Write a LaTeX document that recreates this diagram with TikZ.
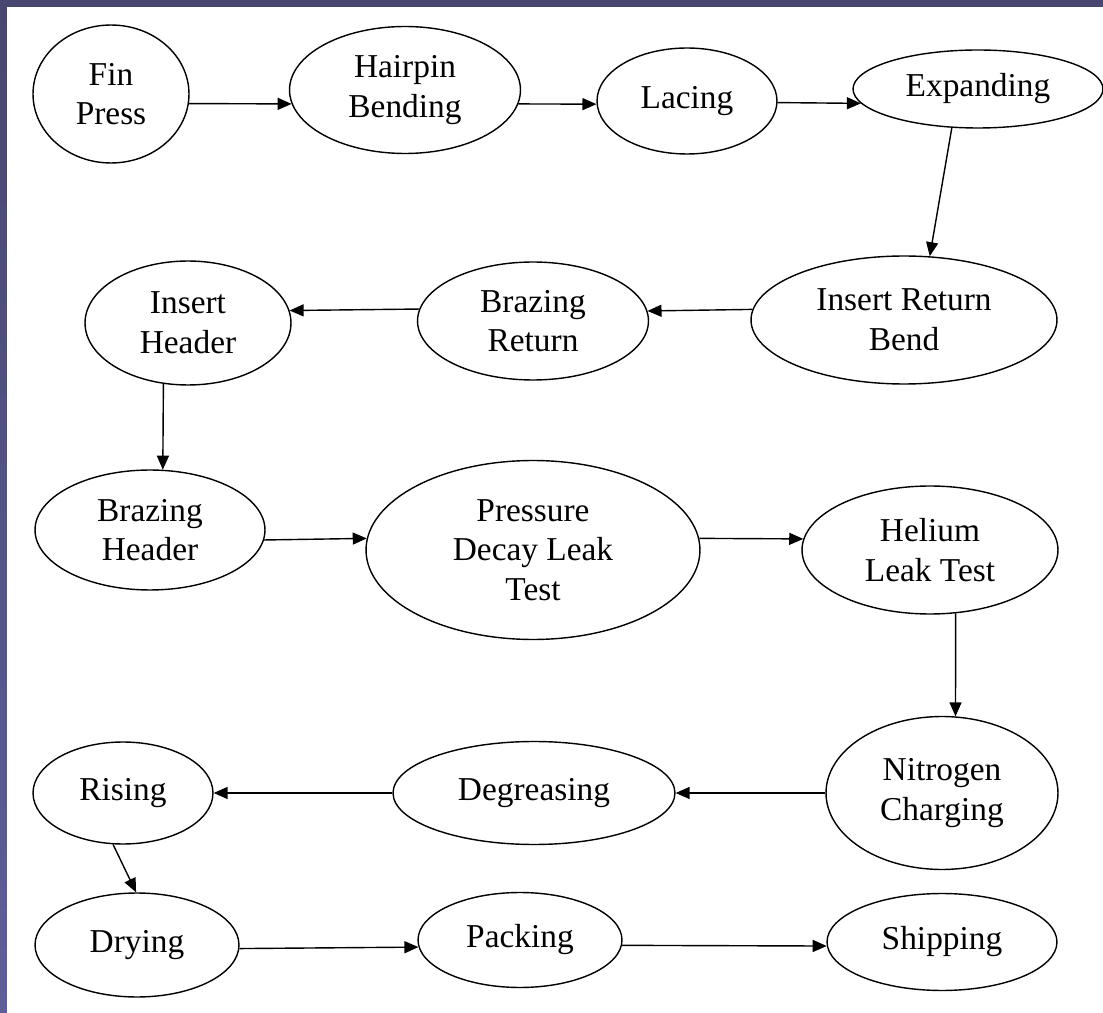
\documentclass[tikz,border=0pt]{standalone}
\usepackage{fontspec}
\setmainfont{Liberation Serif}
\usetikzlibrary{shapes.geometric,arrows.meta}
\definecolor{framedark}{HTML}{48476F}
\definecolor{framelight}{HTML}{5E5E9A}
\tikzset{
  stage/.style 2 args={ellipse, draw, line width=0.8pt, inner sep=0pt,
    minimum width=#1, minimum height=#2, align=center,
    font=\fontsize{19}{22.5}\selectfont},
  flow/.style={line width=0.8pt, -{Triangle[length=0.28cm,width=0.24cm]}}
}
\begin{document}
\begin{tikzpicture}[x=0.02cm,y=-0.02cm]
\useasboundingbox (0,0) rectangle (1103,1013);
\fill[framedark] (0,0) rectangle (1103,1013);
\shade[top color=framedark, bottom color=framelight] (0,7) rectangle (7,1013);
\fill[white] (7,7) rectangle (1103,1013);

\node[stage={3.12cm}{2.76cm}] (fin) at (111,94) {Fin\\Press};
\node[stage={4.62cm}{2.54cm}] (hair) at (405,90) {Hairpin\\Bending};
\node[stage={3.6cm}{2.12cm}] (lace) at (687,101) {Lacing};
\node[stage={5.0cm}{1.56cm}] (expand) at (978,89) {Expanding};
\node[stage={6.12cm}{2.56cm}] (irb) at (904,320) {Insert Return\\Bend};
\node[stage={4.62cm}{2.36cm}] (brazret) at (533,321) {Brazing\\Return};
\node[stage={4.12cm}{2.48cm}] (ih) at (188,323) {Insert\\Header};
\node[stage={4.6cm}{2.4cm}] (bh) at (150,530) {Brazing\\Header};
\node[stage={6.68cm}{3.58cm}] (pdlt) at (533,550) {Pressure\\Decay Leak\\Test};
\node[stage={5.12cm}{2.56cm}] (helium) at (930,550) {Helium\\Leak Test};
\node[stage={4.64cm}{3.06cm}] (nitro) at (942,793) {Nitrogen\\Charging};
\node[stage={5.64cm}{2.06cm}] (degr) at (534,793) {Degreasing};
\node[stage={3.6cm}{2.04cm}] (rising) at (123,793) {Rising};
\node[stage={4.08cm}{2.08cm}] (drying) at (137,945) {Drying};
\node[stage={4.08cm}{1.9cm}] (packing) at (520,940) {Packing};
\node[stage={4.6cm}{1.94cm}] (shipping) at (942,942) {Shipping};

\draw[flow] (fin.-7) -- (hair.187);
\draw[flow] (hair.-7) -- (lace.182);
\draw[flow] (lace.-1) -- (expand.187);
\draw[flow] (expand.236) -- (irb.68);
\draw[flow] (irb.176) -- (brazret.5);
\draw[flow] (brazret.174) -- (ih.7);
\draw[flow] (ih.248) -- (bh.78);
\draw[flow] (bh.-5) -- (pdlt.176);
\draw[flow] (pdlt.4) -- (helium.175);
\draw[flow] (helium.-68) -- (nitro.80);
\draw[flow] (nitro.west) -- (degr.east);
\draw[flow] (degr.west) -- (rising.east);
\draw[flow] (rising.259) -- (drying.91);
\draw[flow] (drying.-2) -- (packing.184);
\draw[flow] (packing.-3) -- (shipping.182);
\end{tikzpicture}
\end{document}
